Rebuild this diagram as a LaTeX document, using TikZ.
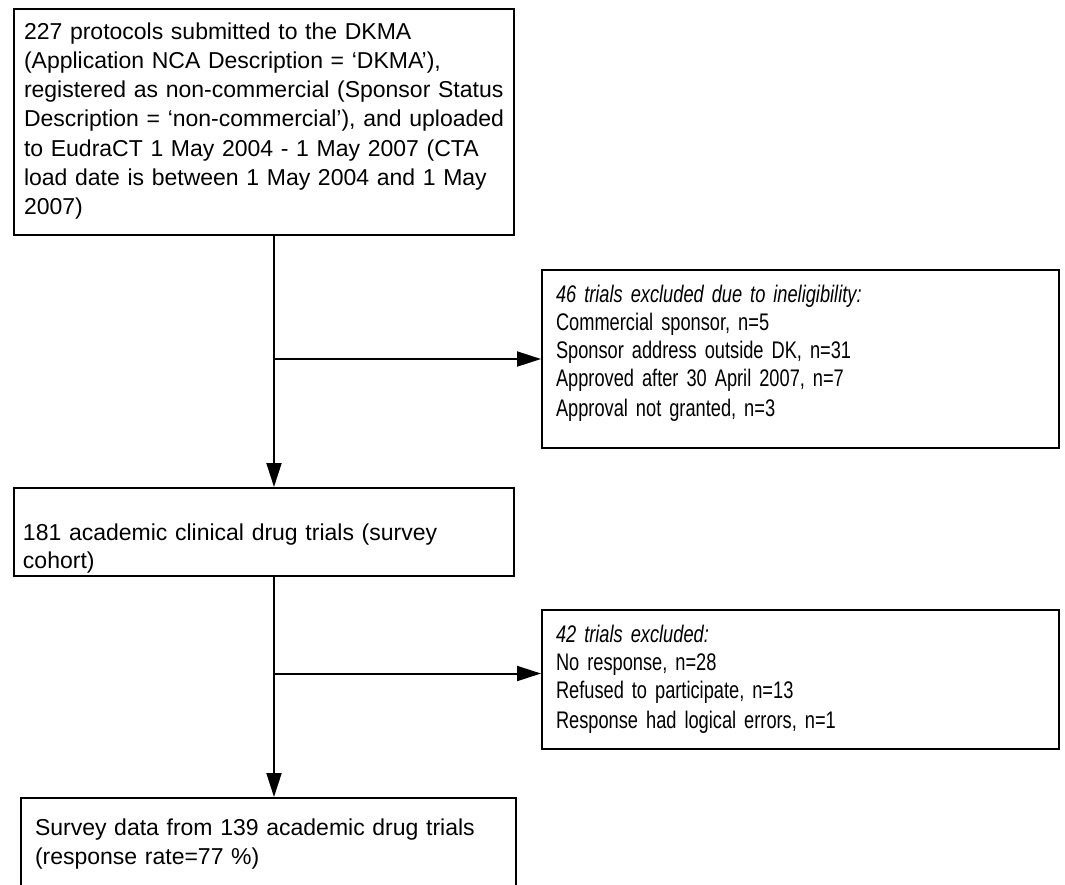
\documentclass[tikz,border=0pt]{standalone}
\usepackage{fontspec}
\setmainfont{Liberation Sans}
\newfontfamily\narrowfont[FakeStretch=0.76]{Liberation Sans}
\usetikzlibrary{arrows.meta}

\begin{document}
\begin{tikzpicture}[
        x=1pt, y=-1pt,
        line width=2pt,
        box/.style={draw, rectangle, anchor=north west, inner sep=0pt},
        box text/.style={anchor=north west, inner sep=0pt, align=left, text width=#1},
        flow/.style={-{Triangle[length=24pt, width=15pt]}},
    ]
    \newcommand*{\MainFont}{\fontsize{23}{29.3}\selectfont}
    \newcommand*{\NarrowFont}{\narrowfont\fontsize{24}{28}\selectfont}
    \newcommand*{\FirstLine}{\rule{0pt}{18pt}}

    \path[fill=white, use as bounding box] (0, 0) rectangle (1065, 884);
    \clip (0, 0) rectangle (1065, 884);

    % The boxes, placed by their top left corners
    \node[box, minimum width=500pt, minimum height=226pt] (protocols) at (13, 8) {};
    \node[box, minimum width=517pt, minimum height=178pt] (ineligible) at (541, 269) {};
    \node[box, minimum width=500pt, minimum height=88pt] (cohort) at (13, 487) {};
    \node[box, minimum width=517pt, minimum height=139pt] (excluded) at (541, 609) {};
    \node[box, minimum width=495pt, minimum height=130pt] (survey) at (20, 797) {};

    % The texts inside them
    \node[box text=490pt, font=\MainFont] (protocols-text)
        at ([shift={(10, 12)}]protocols.north west) {\FirstLine
        227 protocols submitted to the DKMA\\
        (Application NCA Description = ‘DKMA’),\\
        registered as non-commercial (Sponsor Status\\
        Description = ‘non-commercial’), and uploaded\\
        to EudraCT 1 May 2004 - 1 May 2007 (CTA\\
        load date is between 1 May 2004 and 1 May\\
        2007)};
    \node[box text=500pt, font=\NarrowFont] (ineligible-text)
        at ([shift={(14, 14)}]ineligible.north west) {\FirstLine
        {\itshape 46 trials excluded due to ineligibility:}\\
        Commercial sponsor, n=5\\
        Sponsor address outside DK, n=31\\
        Approved after 30 April 2007, n=7\\[2pt]
        Approval not granted, n=3};
    \node[box text=490pt, font=\MainFont] (cohort-text)
        at ([shift={(9, 34)}]cohort.north west) {\FirstLine
        181 academic clinical drug trials (survey\\[-1pt]
        cohort)};
    \node[box text=500pt, font=\NarrowFont] (excluded-text)
        at ([shift={(14, 14)}]excluded.north west) {\FirstLine
        {\itshape 42 trials excluded:}\\
        No response, n=28\\
        Refused to participate, n=13\\[2pt]
        Response had logical errors, n=1};
    \node[box text=480pt, font=\MainFont] (survey-text)
        at ([shift={(14, 19)}]survey.north west) {\FirstLine
        Survey data from 139 academic drug trials\\
        (response rate=77 \%)};

    % The flow
    \coordinate (spine) at (274, 0);
    \draw[flow] (spine |- protocols.south) -- (spine |- cohort.north);
    \draw[flow] (spine |- ineligible.west) -- (ineligible.west);
    \draw[flow] (spine |- cohort.south) -- (spine |- survey.north);
    \draw[flow] ([yshift=6pt]spine |- excluded.west) -- ([yshift=6pt]excluded.west);
\end{tikzpicture}
\end{document}
